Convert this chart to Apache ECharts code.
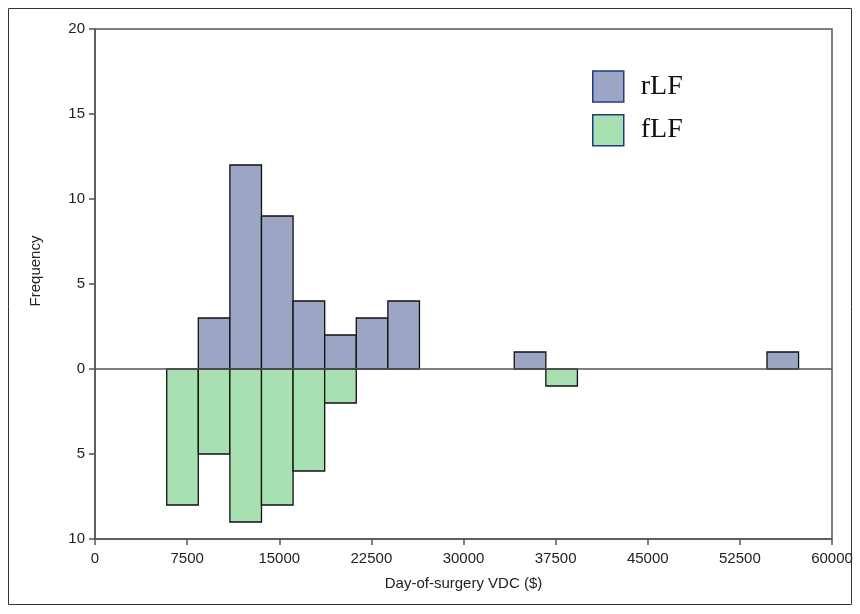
<!DOCTYPE html>
<title>vdc histogram</title>
<style>
body {margin: 0; background: #fff;}
#echart {height: 614px; width: 860px;}
</style>
<div id='echart'></div>
<script src='https://cdn.jsdelivr.net/npm/echarts@6.0.0/dist/echarts.min.js'></script>
<script>
// bin left edges ($) and counts
let binWidth = 2572
let rlfStart = [8410, 10982, 13554, 16126, 18698, 21270, 23842, 34130, 54706]
let rlfCount = [3, 12, 9, 4, 2, 3, 4, 1, 1]
let flfStart = [5838, 8410, 10982, 13554, 16126, 18698, 36702]
let flfCount = [8, 5, 9, 8, 6, 2, 1]

let rlfData = rlfStart.map((s, i) => [s, s + binWidth, rlfCount[i]])
let flfData = flfStart.map((s, i) => [s, s + binWidth, -flfCount[i]])

function renderBin(params, api) {
	let a = api.coord([api.value(0), 0])
	let b = api.coord([api.value(1), api.value(2)])
	return {
		type: 'rect',
		shape: {x: a[0], y: Math.min(a[1], b[1]), width: b[0] - a[0], height: Math.abs(b[1] - a[1])},
		style: {fill: api.visual('color'), stroke: '#111', lineWidth: 1.3},
	}
}

let axisFont = {fontFamily: 'Liberation Sans', fontSize: 15, color: '#222'}
let echart = echarts.init(document.querySelector('#echart'))
let option = {
	animation: false,
	grid: {left: 95, right: 28, top: 29, bottom: 75, show: true, borderColor: '#555', borderWidth: 1.5},
	xAxis: {
		type: 'value', min: 0, max: 60000, interval: 7500,
		name: 'Day-of-surgery VDC ($)', nameLocation: 'middle', nameGap: 32, nameMoveOverlap: false, nameTextStyle: axisFont,
		axisLine: {onZero: false, lineStyle: {color: '#555', width: 1.5}},
		axisTick: {show: true, length: 6, lineStyle: {color: '#555', width: 1.5}},
		axisLabel: {...axisFont, margin: 7, formatter: v => String(v)},
		splitLine: {show: false},
	},
	yAxis: {
		type: 'value', min: -10, max: 20, interval: 5,
		name: 'Frequency', nameLocation: 'middle', nameGap: 46, nameTextStyle: {...axisFont, padding: [0, 0, 0, 26]},
		axisLine: {show: true, onZero: false, lineStyle: {color: '#555', width: 1.5}},
		axisTick: {show: true, length: 6, lineStyle: {color: '#555', width: 1.5}},
		axisLabel: {...axisFont, margin: 10, formatter: v => String(Math.abs(v))},
		splitLine: {show: false},
	},
	legend: {
		orient: 'vertical', left: 587, top: 60, itemWidth: 31, itemHeight: 31, itemGap: 1,
		icon: 'rect',
		textStyle: {fontFamily: 'Liberation Serif', fontSize: 28, lineHeight: 31, color: '#111', padding: [0, 0, 0, 12]},
		data: [
			{name: 'rLF', itemStyle: {borderColor: '#1f3b84', borderWidth: 1.5}},
			{name: 'fLF', itemStyle: {borderColor: '#1f3b84', borderWidth: 1.5}},
		],
	},
	series: [
		{type: 'custom', name: 'rLF', renderItem: renderBin, data: rlfData, itemStyle: {color: '#9ca6c4'}, encode: {x: [0, 1], y: 2},
			markLine: {silent: true, symbol: 'none', label: {show: false}, lineStyle: {color: '#555', width: 1.5, type: 'solid'}, data: [{yAxis: 0}]}},
		{type: 'custom', name: 'fLF', renderItem: renderBin, data: flfData, itemStyle: {color: '#a8e0b1'}, encode: {x: [0, 1], y: 2}},
	],
	graphic: [
		{type: 'rect', shape: {x: 8.5, y: 8.5, width: 843, height: 596}, style: {fill: 'none', stroke: '#333', lineWidth: 1}, silent: true},
	],
}
echart.setOption(option)
addEventListener('resize', function (event) {echart.resize()})
</script>
